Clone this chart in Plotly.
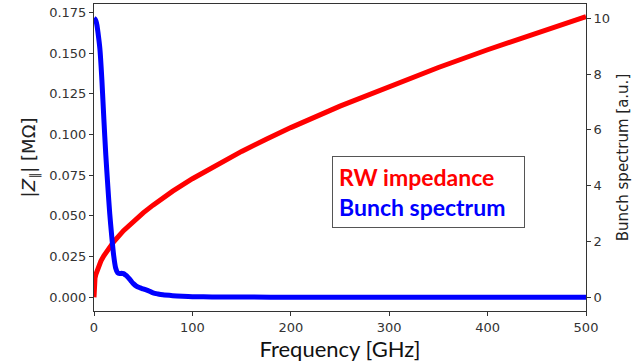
import plotly.graph_objects as go

# RW impedance |Z_par| [MOhm] vs frequency [GHz]
rw_freq = [0, 0.3, 1, 2, 4, 7, 10, 15, 20, 30, 40, 50, 60, 80, 100, 125, 150, 175, 200,
           250, 300, 350, 400, 450, 500]
rw_imp = [0.0, 0.009, 0.0117, 0.0143, 0.0180, 0.0222, 0.0255, 0.0302, 0.0341, 0.0409, 0.0467,
          0.0519, 0.0566, 0.0652, 0.0728, 0.0816, 0.0896, 0.0971, 0.1042, 0.1174, 0.1296,
          0.1411, 0.1520, 0.1624, 0.1724]

# Bunch spectrum [a.u.] vs frequency [GHz]
bs_freq = [0, 1, 2, 3, 4, 6, 8, 10, 12, 14, 16, 18, 20, 22, 24, 26, 28, 30, 32, 34, 36, 38, 40,
           43, 46, 50, 55, 60, 65, 70, 80, 90, 100, 120, 150, 200, 300, 400, 500]
bs_val = [10.0, 9.97, 9.9, 9.75, 9.5, 8.9, 7.8, 6.4, 5.1, 4.0, 3.0, 2.2, 1.5, 1.05, 0.88, 0.85,
          0.86, 0.85, 0.8, 0.74, 0.66, 0.57, 0.49, 0.40, 0.35, 0.30, 0.24, 0.16, 0.12, 0.09,
          0.06, 0.04, 0.025, 0.015, 0.01, 0.005, 0.0, 0.0, 0.0]

x_ticks = [0, 100, 200, 300, 400, 500]
y_ticks = [0.0, 0.025, 0.05, 0.075, 0.1, 0.125, 0.15, 0.175]
y2_ticks = [0, 2, 4, 6, 8, 10]

fig = go.Figure()
fig.add_trace(go.Scatter(x=rw_freq, y=rw_imp, mode="lines", line=dict(color="#ff0000", width=5),
                         showlegend=False))
fig.add_trace(go.Scatter(x=bs_freq, y=bs_val, mode="lines", line=dict(color="#0000ff", width=5),
                         line_shape="spline", line_smoothing=0.8, yaxis="y2", showlegend=False))

tickfont = dict(family="DejaVu Sans", size=13, color="#333333")
axcommon = dict(showgrid=False, zeroline=False, showline=True, linecolor="#333333", linewidth=1,
                ticks="outside", ticklen=4, tickcolor="#333333", tickfont=tickfont)

fig.update_layout(
    width=644, height=362,
    margin=dict(l=94, r=58, t=4, b=51),
    paper_bgcolor="white", plot_bgcolor="white",
    xaxis=dict(range=[0, 500], tickvals=x_ticks, ticktext=[str(v) for v in x_ticks],
               mirror=True,
               title=dict(text="Frequency [GHz]", font=dict(family="Lato", size=22, color="#111111"),
                          standoff=6),
               **axcommon),
    yaxis=dict(range=[-0.0084, 0.1801], tickvals=y_ticks, ticktext=[f"{v:.3f}" for v in y_ticks],
               title=dict(text="|<i>Z</i><sub>∥</sub>| [MΩ]",
                          font=dict(family="DejaVu Sans", size=18, color="#222222"), standoff=8),
               **axcommon),
    yaxis2=dict(range=[-0.49, 10.51], tickvals=y2_ticks, ticktext=[str(v) for v in y2_ticks],
                overlaying="y", side="right",
                title=dict(text="Bunch spectrum [a.u.]",
                           font=dict(family="DejaVu Sans", size=15, color="#222222"), standoff=8),
                **axcommon),
    annotations=[dict(
        xref="paper", yref="paper", x=(332 - 94) / 492, y=(311 - 156) / 307,
        xanchor="left", yanchor="top",
        text="<b><span style='color:#ff0000'>RW impedance</span><br>"
             "<span style='color:#0000ff'>Bunch spectrum</span></b>",
        align="left", valign="middle", showarrow=False,
        width=179, height=58,
        font=dict(family="Lato", size=23),
        bordercolor="#555555", borderwidth=1, borderpad=6, bgcolor="white",
    )],
)

fig.write_html("out.html")
